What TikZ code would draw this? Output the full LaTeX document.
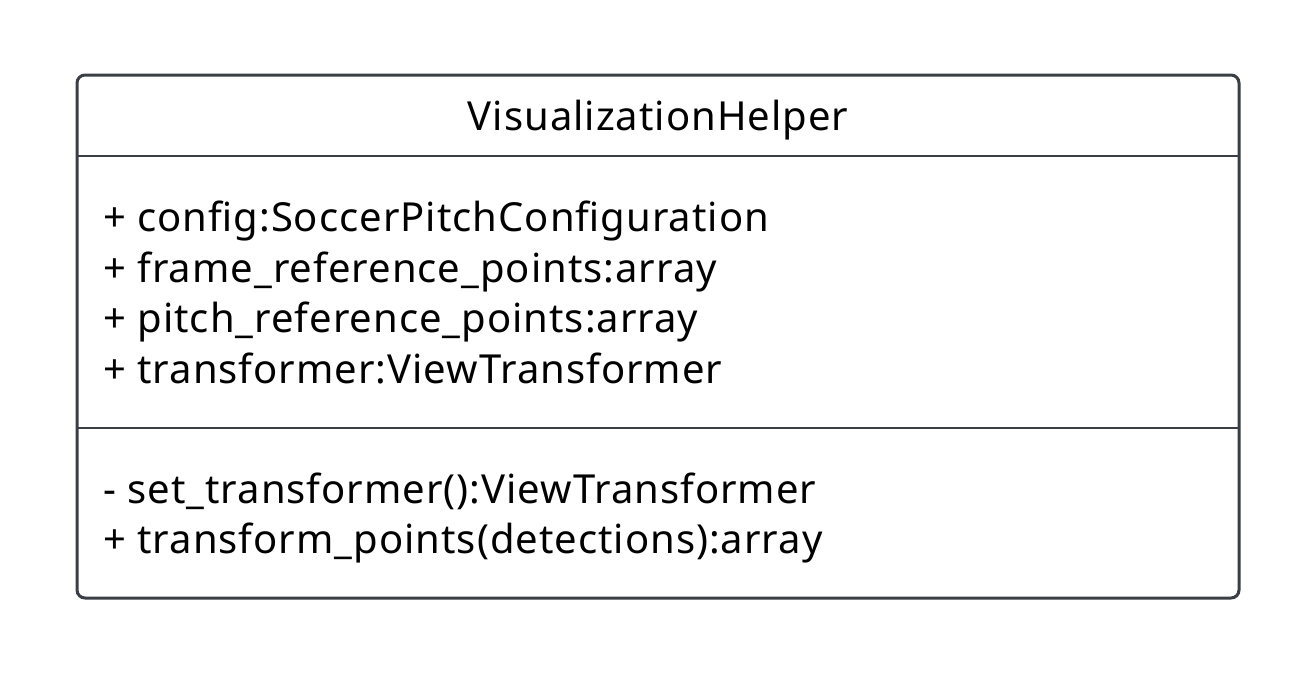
\documentclass[tikz,border=0pt]{standalone}
\usepackage{fontspec}
\setmainfont{Noto Sans}[LetterSpace=2.5]
\begin{document}
\begin{tikzpicture}[x=1pt,y=-1pt,
  frame/.style={draw=umlgray,line width=3pt},
  member/.style={anchor=base west,inner sep=0pt,font=\fontsize{40}{48}\selectfont,text=black},
  title/.style={anchor=base,inner sep=0pt,font=\fontsize{40}{48}\selectfont,text=black}]
\definecolor{umlgray}{HTML}{3A3E45}
\useasboundingbox (0,0) rectangle (1313,673);
% class box with its three compartments
\draw[frame,rounded corners=8pt] (77,75) rectangle (1239,598);
\coordinate (d1l) at (77,156);
\coordinate (d1r) at (1239,156);
\coordinate (d2l) at (77,428);
\coordinate (d2r) at (1239,428);
\draw[frame,line width=2.5pt] (d1l) -- (d1r);
\draw[frame,line width=2.5pt] (d2l) -- (d2r);
% class name
\node[title] (name) at (658,130) {VisualizationHelper};
% attributes
\node[member] (a1) at (103,231.5) {+ config:SoccerPitchConfiguration};
\node[member] (a2) at (103,282) {+ frame\_reference\_points:array};
\node[member] (a3) at (103,332.5) {+ pitch\_reference\_points:array};
\node[member] (a4) at (103,383) {+ transformer:ViewTransformer};
% operations
\node[member] (m1) at (103,503) {- set\_transformer():ViewTransformer};
\node[member] (m2) at (103,553.5) {+ transform\_points(detections):array};
\end{tikzpicture}
\end{document}
